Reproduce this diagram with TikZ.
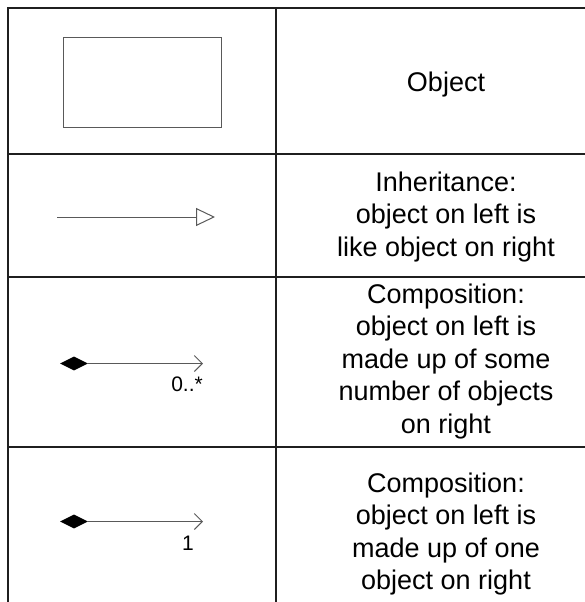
\documentclass[tikz,border=0pt]{standalone}
\usepackage{fontspec}
\setmainfont{Liberation Sans}
\usetikzlibrary{arrows.meta,shapes.geometric}
\tikzset{
  grid/.style={line width=1.8pt, black!88},
  thin/.style={line width=1pt, black!65},
  celltext/.style={anchor=north, inner sep=0pt, align=center,
     font=\fontsize{27}{32.5}\selectfont},
  mult/.style={inner sep=0pt, font=\fontsize{21}{24}\selectfont},
  compdia/.style={diamond, fill=black, draw=none, inner sep=0pt,
     minimum width=28pt, minimum height=14pt},
  inherit/.style={thin, -{Triangle[open, length=19pt, width=18pt, line width=1pt]}},
  compose/.style={thin, -{Straight Barb[length=8pt, width=16pt, line width=1pt]}}
}
\begin{document}
\begin{tikzpicture}[x=1pt, y=-1pt]
\useasboundingbox (0,0) rectangle (585,602);
\begin{scope}
\clip (0,0) rectangle (585,602);
% table grid
\draw[grid] (8,620) -- (8,8) -- (600,8);
\draw[grid] (276,8) -- (276,620);
\draw[grid] (8,154) -- (600,154);
\draw[grid] (8,277) -- (600,277);
\draw[grid] (8,447) -- (600,447);
\end{scope}

% row 1: object
\node[thin, draw, minimum width=158pt, minimum height=89pt, inner sep=0pt] (obj) at (142,82.5) {};
\node[celltext] (tObj) at (446,71.5) {Object};

% row 2: inheritance
\coordinate (iS) at (57,217);
\coordinate (iE) at (215,217);
\draw[inherit] (iS) -- (iE);
\node[celltext] (tInh) at (446,171.5) {Inheritance:\\object on left is\\like object on right};

% row 3: composition 0..*
\node[compdia] (d1) at (74,363.5) {};
\coordinate (c1E) at (203,363.5);
\draw[compose] (d1.east) -- (c1E);
\node[mult, anchor=base east] (m1) at (203,391.5) {0..*};
\node[celltext] (tC1) at (446,283.5) {Composition:\\object on left is\\made up of some\\number of objects\\on right};

% row 4: composition 1
\node[compdia] (d2) at (74,521.5) {};
\coordinate (c2E) at (203,521.5);
\draw[compose] (d2.east) -- (c2E);
\node[mult, anchor=base] (m2) at (188,550) {1};
\node[celltext] (tC2) at (446,472.5) {Composition:\\object on left is\\made up of one\\object on right};
\end{tikzpicture}
\end{document}
